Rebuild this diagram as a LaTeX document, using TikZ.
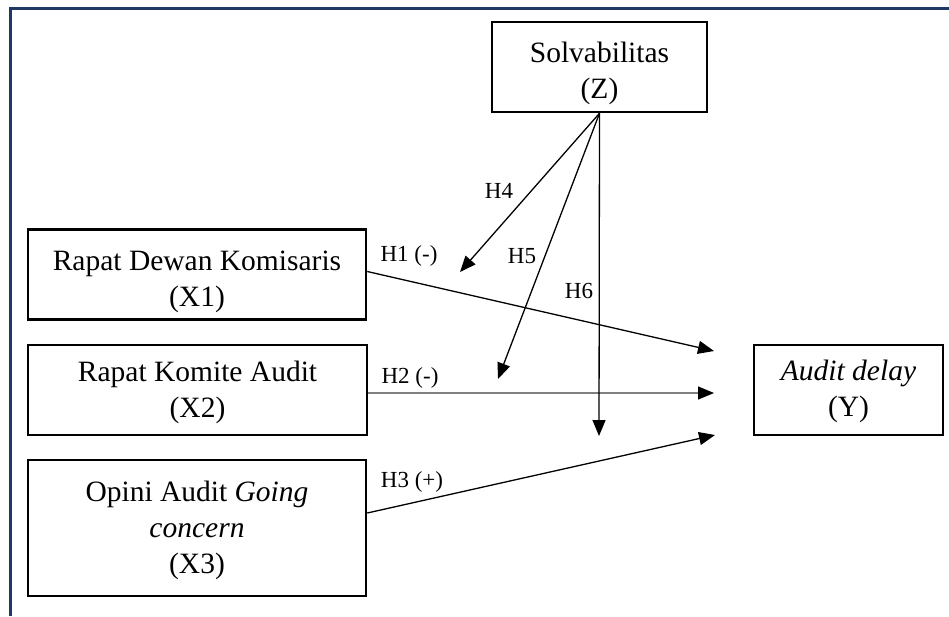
\documentclass[tikz,border=0pt]{standalone}
\usepackage{fontspec}
\setmainfont{Liberation Serif}
\usetikzlibrary{arrows.meta}
\definecolor{framecol}{HTML}{1F3864}
\definecolor{linegray}{HTML}{808080}
\newcommand{\lowerby}[1]{\rule{0pt}{\dimexpr 20.4pt+2\dimexpr #1\relax\relax}}
\tikzset{
  box/.style={draw=black, line width=2.5pt, rectangle, align=center, inner sep=0pt,
    font=\fontsize{29.5}{36}\selectfont},
  conn/.style={line width=1.3pt, -{Triangle[length=16pt,width=13pt]}},
  grayconn/.style={line width=1.3pt, draw=linegray, -{Triangle[length=16pt,width=13pt,color=black,fill=black]}},
  lab/.style={font=\fontsize{23}{26}\selectfont, inner sep=0pt}
}
\begin{document}
\begin{tikzpicture}[x=1pt,y=-1pt]
\useasboundingbox (0,0) rectangle (949,616);
% frame (only top and left edges visible)
\draw[framecol, line width=3pt] (10.5,616) -- (10.5,8.5) -- (949,8.5);
% boxes
\node[box, minimum width=215pt, minimum height=90pt] (Z) at (599.5,67) {\lowerby{6pt}Solvabilitas\\(Z)};
\node[box, minimum width=338pt, minimum height=90pt] (X1) at (197,274.5) {\lowerby{6.5pt}Rapat Dewan Komisaris\\(X1)};
\node[box, minimum width=339pt, minimum height=90pt] (X2) at (197.5,390) {\lowerby{2.7pt}Rapat Komite Audit\\(X2)};
\node[box, minimum width=338pt, minimum height=136pt] (X3) at (197,528) {\lowerby{2pt}Opini Audit \textit{Going}\\\textit{concern}\\(X3)};
\node[box, minimum width=189pt, minimum height=90pt] (Y) at (848.5,390) {\lowerby{1pt}\textit{Audit delay}\\(Y)};
% free ends
\coordinate (t1) at (714,351);
\coordinate (t2) at (714,393);
\coordinate (t3) at (715,435);
\coordinate (t4) at (460,272);
\coordinate (t5) at (498,379);
\coordinate (t6) at (599,436);
% connectors
\draw[conn] ([yshift=3pt]X1.east) -- (t1);
\draw[grayconn] ([yshift=-3pt]X2.east) -- (t2);
\draw[conn] ([yshift=15pt]X3.east) -- (t3);
\draw[conn] (Z.south) -- (t4);
\draw[conn] (Z.south) -- (t5);
\draw[conn] (Z.south) -- (t6);
% labels
\node[lab] (h1) at (409,256) {H1 (-)};
\node[lab] (h2) at (410,378) {H2 (-)};
\node[lab] (h3) at (412,482) {H3 (+)};
\node[lab] (h4) at (499,191) {H4};
\node[lab] (h5) at (522,256) {H5};
\node[lab] (h6) at (579,291) {H6};
\end{tikzpicture}
\end{document}
